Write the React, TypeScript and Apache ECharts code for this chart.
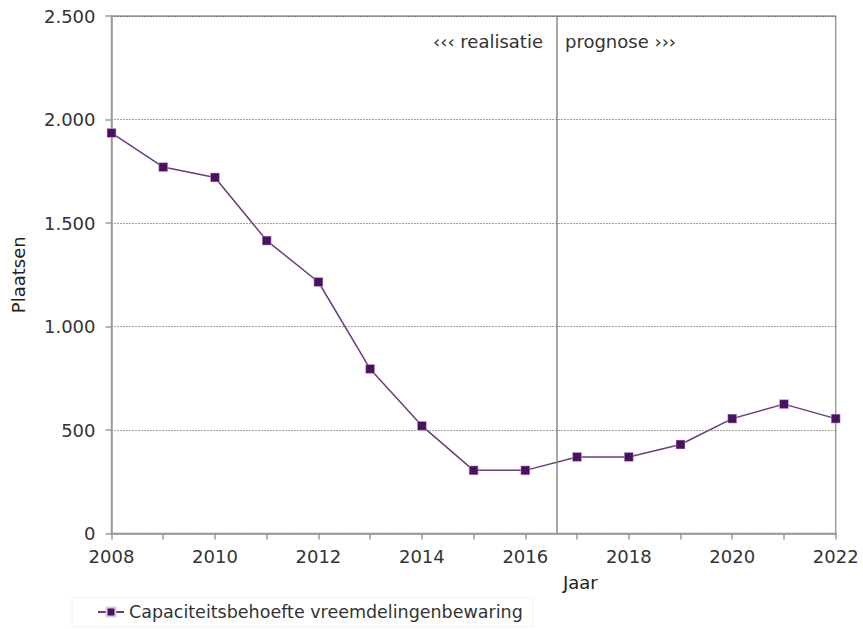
import React, { useEffect, useRef } from "react";
import * as echarts from "echarts";

const years = [2008, 2009, 2010, 2011, 2012, 2013, 2014, 2015, 2016, 2017, 2018, 2019, 2020, 2021, 2022];
const capacity = [1935, 1770, 1720, 1415, 1215, 795, 520, 305, 305, 370, 370, 430, 555, 625, 555];
const seriesName = "Capaciteitsbehoefte vreemdelingenbewaring";
const dividerYear = 2016.6;
const yTicks = { min: 0, max: 2500, interval: 500 };

const FONT = "DejaVu Sans, Verdana, sans-serif";
const FS = 18;

export default function App() {
  const ref = useRef<HTMLDivElement>(null);
  useEffect(() => {
    if (!ref.current) return;
    const chart = echarts.init(ref.current, undefined, { renderer: "svg" });
    chart.setOption({
      animation: false,
      textStyle: { fontFamily: FONT },
      grid: {
        left: 111.5,
        right: 27.3,
        top: 16,
        bottom: 95.5,
        show: true,
        borderColor: "#9a9a9a",
        borderWidth: 1.5,
        backgroundColor: "transparent",
      },
      xAxis: {
        type: "value",
        min: 2008,
        max: 2022,
        interval: 1,
        axisLine: { lineStyle: { color: "#9a9a9a", width: 1.5 } },
        axisTick: { show: true, length: 6, lineStyle: { color: "#9a9a9a", width: 1.5 } },
        splitLine: { show: false },
        axisLabel: {
          color: "#333",
          fontSize: FS,
          fontFamily: FONT,
          margin: 14,
          formatter: (v: number) => (v % 2 === 0 ? String(v) : ""),
        },
      },
      yAxis: {
        type: "value",
        min: yTicks.min,
        max: yTicks.max,
        interval: yTicks.interval,
        name: "Plaatsen",
        nameLocation: "middle",
        nameGap: 84,
        nameTextStyle: { color: "#222", fontSize: FS, fontFamily: FONT },
        axisLine: { show: true, lineStyle: { color: "#9a9a9a", width: 1.5 } },
        axisTick: { show: true, length: 6, lineStyle: { color: "#9a9a9a", width: 1.5 } },
        splitLine: { show: true, lineStyle: { color: "#444", type: [1, 2], width: 1 } },
        axisLabel: {
          color: "#333",
          fontSize: FS,
          fontFamily: FONT,
          margin: 16,
          formatter: (v: number) => v.toLocaleString("de-DE"),
        },
      },
      legend: {
        show: true,
        left: 72,
        top: 598,
        padding: [5, 10, 6, 25],
        borderColor: "#f0f0f0",
        borderWidth: 1,
        itemWidth: 26,
        itemHeight: 11,
        itemGap: 5,
        textStyle: { color: "#333", fontSize: 17.5, fontFamily: FONT },
        data: [{ name: seriesName }],
      },
      graphic: [
        {
          type: "text",
          right: 863 - 543,
          top: 32,
          style: { text: "‹‹‹ realisatie", font: `${FS}px ${FONT}`, fill: "#333", textAlign: "right" },
        },
        {
          type: "text",
          left: 565,
          top: 32,
          style: { text: "prognose ›››", font: `${FS}px ${FONT}`, fill: "#333" },
        },
        {
          type: "text",
          left: 563,
          top: 573,
          style: { text: "Jaar", font: `${FS}px ${FONT}`, fill: "#222" },
        },
      ],
      series: [
        {
          name: seriesName,
          type: "line",
          data: years.map((y, i) => [y, capacity[i]]),
          symbol: "rect",
          symbolSize: 9,
          itemStyle: { color: "#4a1161", borderColor: "#d9c8e0", borderWidth: 0.5 },
          lineStyle: { color: "#6a3d80", width: 1.5 },
          markLine: {
            silent: true,
            symbol: ["none", "none"],
            label: { show: false },
            lineStyle: { color: "#8a8a8a", type: "solid", width: 1.5 },
            data: [{ xAxis: dividerYear }],
          },
        },
      ],
    });
    return () => chart.dispose();
  }, []);
  return (
    <div
      ref={ref}
      style={{ position: "absolute", left: 0, top: 0, width: 863, height: 629, background: "#fff" }}
    />
  );
}
